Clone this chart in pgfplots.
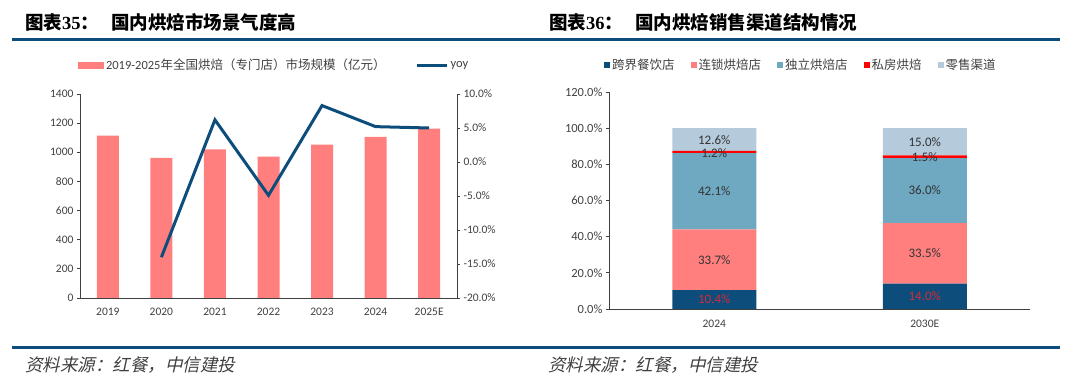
\documentclass[border=0pt]{standalone}
\usepackage{pgfplots}
\pgfplotsset{compat=1.18}
\usepackage{pgfplotstable}
\usepackage{fontspec}
\setmainfont{Carlito}
\newfontfamily\cjk{Noto Sans CJK SC}
\newfontfamily\serifb{Liberation Serif}
\newfontfamily\kai[FakeSlant=0.22]{Noto Sans CJK SC}
\definecolor{salmon}{HTML}{FF7F7F}
\definecolor{navy}{HTML}{0D4D7C}
\definecolor{teal}{HTML}{6FA8C1}
\definecolor{pred}{HTML}{FF0000}
\definecolor{lblue}{HTML}{B5CADA}
\definecolor{lgray}{HTML}{404040}
\definecolor{lred}{HTML}{D42A36}

\pgfplotstableread{
x v
0 1115
1 962
2 1020
3 970
4 1053
5 1105
6 1162
}\market
\pgfplotstableread{
x v
1 -14.0
2 6.2
3 -4.9
4 8.3
5 5.2
6 5.0
}\yoy
\pgfplotstableread{
x a b c d e
0 10.4 33.7 42.1 1.2 12.6
1 14.0 33.5 36.0 1.5 15.0
}\shares
\pgfplotstableread{
x y v
0 5.2 10.4
1 7.0 14.0
}\labred
\pgfplotstableread{
x y v
0 27.25 33.7
0 65.15 42.1
0 86.4 1.2
0 93.4 12.6
1 30.75 33.5
1 65.5 36.0
1 83.8 1.5
1 92.5 15.0
}\labdark

\pgfplotsset{
  common/.style={
    scale only axis,
    anchor=south west,
    tick label style={font=\fontsize{11.5}{13}\selectfont, text=lgray},
    /pgf/number format/assume math mode=true,
    /pgf/number format/set thousands separator={},
    axis line style={-, draw=lgray, line width=0.8pt},
    tick style={draw=lgray, line width=0.8pt},
    tick align=outside,
    major tick length=3pt,
    xtick style={draw=none},
  },
}

\begin{document}
\begin{tikzpicture}
\path[use as bounding box] (0pt,0pt) rectangle (1080pt,383pt);

% titles and rules
\node[anchor=west, inner sep=0pt] at (25pt,360.5pt) {\fontsize{18.5}{20}\selectfont\cjk\bfseries 图表{\serifb\bfseries 35}：};
\node[anchor=west, inner sep=0pt] at (111pt,360.5pt) {\fontsize{18.5}{20}\selectfont\cjk\bfseries 国内烘焙市场景气度高};
\node[anchor=west, inner sep=0pt] at (549pt,360.5pt) {\fontsize{18.5}{20}\selectfont\cjk\bfseries 图表{\serifb\bfseries 36}：};
\node[anchor=west, inner sep=0pt] at (635pt,360.5pt) {\fontsize{18.5}{20}\selectfont\cjk\bfseries 国内烘焙销售渠道结构情况};
\draw[navy, line width=3pt] (12pt,343pt) -- (1060pt,343pt);
\draw[navy, line width=3pt] (12pt,35.5pt) -- (1060pt,35.5pt);
\node[anchor=west, inner sep=0pt, text=lgray] at (25pt,17.5pt) {\fontsize{17.5}{19}\selectfont\kai 资料来源：红餐，中信建投};
\node[anchor=west, inner sep=0pt, text=lgray] at (548pt,17.5pt) {\fontsize{17.5}{19}\selectfont\kai 资料来源：红餐，中信建投};

% left chart: bars
\begin{axis}[common,
  at={(80pt,85pt)}, width=377pt, height=204pt,
  xmin=-0.52, xmax=6.52, ymin=0, ymax=1400,
  ytick={0,200,...,1400},
  xtick={0,...,6}, xticklabels={2019,2020,2021,2022,2023,2024,2025E},
  xticklabel style={yshift=-4pt},
  axis y line*=left, axis x line*=bottom,
  ybar, bar width=22pt,
  legend columns=2,
  legend style={draw=none, fill=none, at={(0.515,1.142)}, anchor=center,
    font=\fontsize{12.5}{14}\selectfont, text=lgray,
    /tikz/every even column/.append style={column sep=28pt}},
]
\addplot[fill=salmon, draw=none,
  legend image code/.code={\fill[salmon] (0pt,-3.5pt) rectangle (26pt,3.5pt);}]
  table[x=x,y=v]{\market};
\addlegendentry{2019-2025{\cjk 年全国烘焙（专门店）市场规模（亿元）}}
\addlegendimage{navy, line width=3pt, legend image code/.code={\draw[navy, line width=3pt] (0pt,0pt) -- (30pt,0pt);}}
\addlegendentry{yoy}
\end{axis}

% left chart: yoy line
\begin{axis}[common,
  at={(80pt,85pt)}, width=377pt, height=204pt,
  xmin=-0.52, xmax=6.52, ymin=-20, ymax=10,
  ytick={-20,-15,...,10},
  axis y line*=right, axis x line=none,
  yticklabel={\pgfmathprintnumber[fixed,fixed zerofill,precision=1]{\tick}\%},
]
\addplot[navy, line width=3pt, mark=none] table[x=x,y=v]{\yoy};
\end{axis}

% right chart: stacked bars
\begin{axis}[common,
  tick label style={font=\fontsize{12.5}{14}\selectfont, text=lgray},
  at={(609pt,74pt)}, width=421pt, height=217pt,
  xmin=-0.5, xmax=1.5, ymin=0, ymax=120,
  ytick={0,20,...,120},
  yticklabel={\pgfmathprintnumber[fixed,fixed zerofill,precision=1]{\tick}\%},
  xticklabel style={font=\fontsize{11.5}{13}\selectfont, yshift=-5pt},
  xtick={0,1}, xticklabels={2024,2030E},
  axis y line*=left, axis x line*=bottom,
  ybar stacked, bar width=84pt,
  legend columns=5,
  legend style={draw=none, fill=none, at={(0.456,1.124)}, anchor=center,
    font=\fontsize{12.5}{14}\selectfont\cjk, text=lgray,
    /tikz/every even column/.append style={column sep=14pt}},
]
\addplot[fill=navy, draw=none, legend image code/.code={\fill[navy] (0pt,-3pt) rectangle (6pt,3pt);}] table[x=x,y=a]{\shares};
\addlegendentry{跨界餐饮店}
\addplot[fill=salmon, draw=none, legend image code/.code={\fill[salmon] (0pt,-3pt) rectangle (6pt,3pt);}] table[x=x,y=b]{\shares};
\addlegendentry{连锁烘焙店}
\addplot[fill=teal, draw=none, legend image code/.code={\fill[teal] (0pt,-3pt) rectangle (6pt,3pt);}] table[x=x,y=c]{\shares};
\addlegendentry{独立烘焙店}
\addplot[fill=pred, draw=none, legend image code/.code={\fill[pred] (0pt,-3pt) rectangle (6pt,3pt);}] table[x=x,y=d]{\shares};
\addlegendentry{私房烘焙}
\addplot[fill=lblue, draw=none, legend image code/.code={\fill[lblue] (0pt,-3pt) rectangle (6pt,3pt);}] table[x=x,y=e]{\shares};
\addlegendentry{零售渠道}
\end{axis}

% right chart: labels
\begin{axis}[
  scale only axis, anchor=south west,
  at={(609pt,74pt)}, width=421pt, height=217pt,
  xmin=-0.5, xmax=1.5, ymin=0, ymax=120,
  hide axis,
  /pgf/number format/assume math mode=true,
]
\addplot[draw=none, mark=none, point meta=explicit,
  nodes near coords={\pgfmathprintnumber[fixed,fixed zerofill,precision=1]{\pgfplotspointmeta}\%},
  nodes near coords align=center,
  every node near coord/.append style={font=\fontsize{13}{15}\selectfont, text=lred, anchor=center}]
  table[x=x,y=y,meta=v]{\labred};
\addplot[draw=none, mark=none, point meta=explicit,
  nodes near coords={\pgfmathprintnumber[fixed,fixed zerofill,precision=1]{\pgfplotspointmeta}\%},
  nodes near coords align=center,
  every node near coord/.append style={font=\fontsize{13}{15}\selectfont, text=lgray!80!black, anchor=center}]
  table[x=x,y=y,meta=v]{\labdark};
\end{axis}
\end{tikzpicture}
\end{document}
